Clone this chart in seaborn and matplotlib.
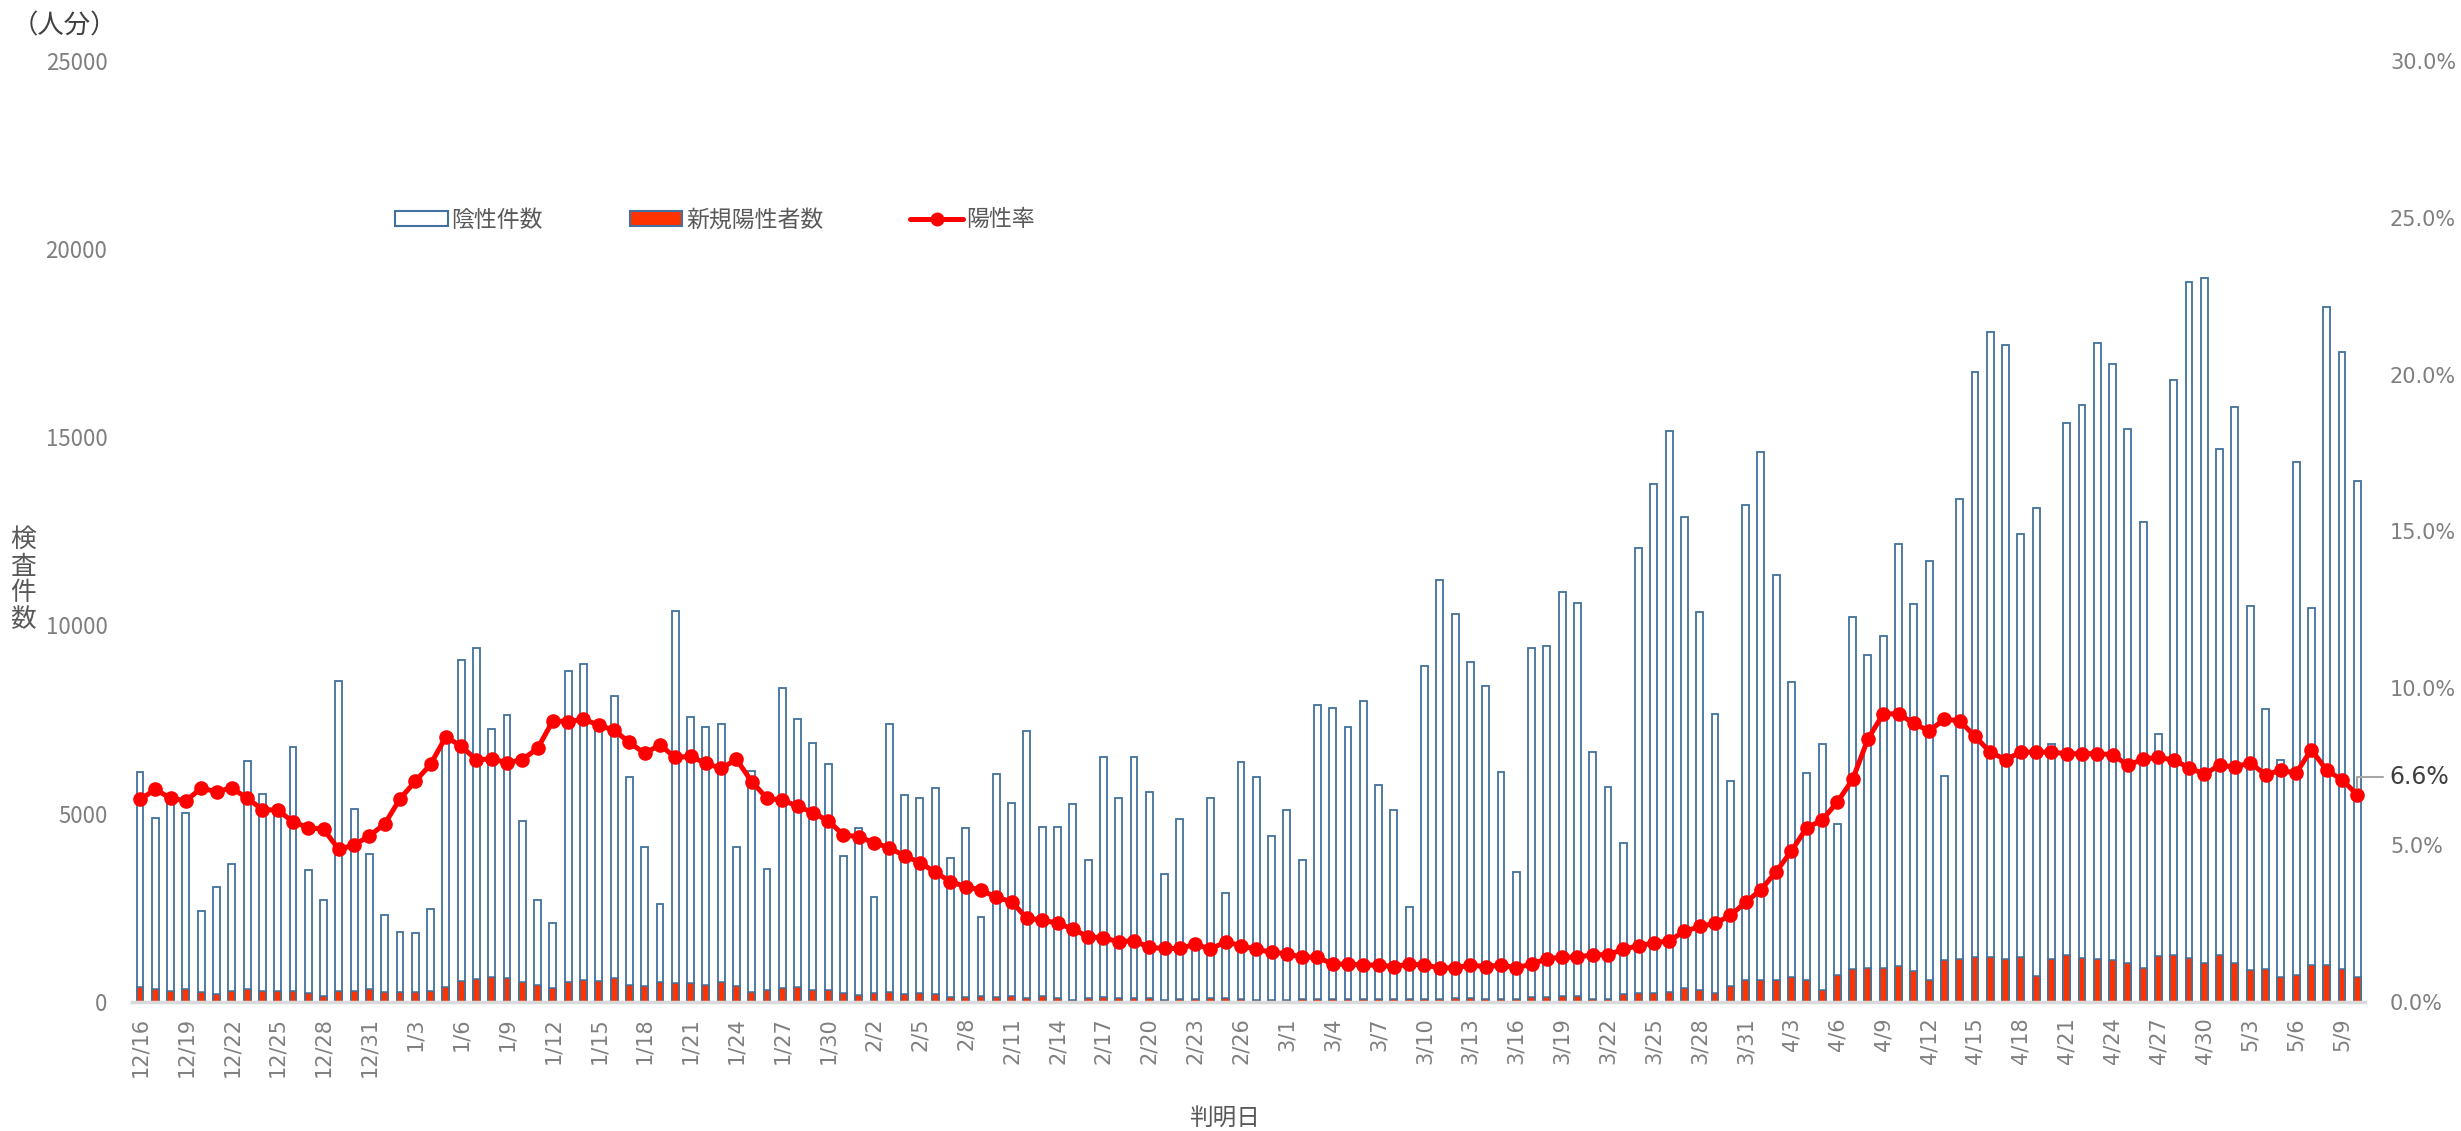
import numpy as np
import pandas as pd
import matplotlib
matplotlib.use("Agg")
import matplotlib.pyplot as plt
from matplotlib.patches import Patch
from matplotlib.lines import Line2D
from matplotlib.ticker import MultipleLocator, FuncFormatter
import seaborn as sns

# 判明日 (2020/12/16 - 2021/5/10)
dates = pd.date_range("2020-12-16", "2021-05-10", freq="D")
date_labels = [f"{d.month}/{d.day}" for d in dates]

# 陰性件数
negative_tests = [
    5730, 4545, 5108, 4694, 2161, 2860, 3376, 6060, 5237, 4908,
    6470, 3270, 2543, 8232, 4838, 3604, 2054, 1611, 1568, 2180,
    6567, 8524, 8814, 6584, 6990, 4287, 2251, 1728, 8274, 8391,
    6842, 7503, 5512, 3679, 2081, 9904, 7086, 6849, 6849, 3679,
    5890, 3208, 7974, 7115, 6549, 5991, 3650, 4439, 2552, 7131,
    5297, 5183, 5475, 3703, 4500, 2099, 5919, 5130, 7113, 4491,
    4561, 5202, 3676, 6387, 5332, 6422, 5476, 3354, 4786, 1380,
    5316, 2791, 6310, 5935, 4370, 5063, 3696, 7813, 7755, 7228,
    7925, 5700, 5043, 2470, 8871, 11128, 10202, 8939, 8326, 6032,
    3387, 9281, 9314, 10737, 10457, 6568, 5624, 4034, 11809, 13534,
    14912, 12506, 10058, 7416, 5452, 12615, 14034, 10765, 7831, 5481,
    6536, 3992, 9362, 8303, 8819, 11212, 9737, 11126, 4896, 12214,
    15552, 16594, 16302, 11238, 12450, 5702, 14146, 14704, 16371, 15858,
    14188, 11866, 5912, 15273, 17957, 18194, 13462, 14786, 9693, 6927,
    5770, 13630, 9486, 17484, 16413, 13186,
]

# 新規陽性者数
new_positives = [
    383, 346, 292, 330, 250, 197, 292, 330, 292, 292,
    292, 223, 160, 292, 292, 330, 250, 250, 250, 292,
    383, 558, 595, 656, 622, 524, 452, 356, 524, 585,
    558, 622, 452, 425, 524, 489, 489, 452, 524, 425,
    250, 319, 356, 391, 319, 319, 223, 186, 223, 250,
    197, 223, 197, 125, 125, 160, 125, 160, 90, 160,
    90, 53, 90, 125, 90, 90, 90, 40, 70, 70,
    90, 90, 60, 40, 40, 40, 60, 60, 60, 60,
    60, 60, 60, 60, 60, 70, 90, 90, 60, 60,
    60, 120, 130, 140, 140, 80, 80, 195, 237, 237,
    263, 375, 306, 221, 417, 585, 585, 585, 654, 585,
    306, 723, 861, 904, 904, 946, 821, 585, 1098, 1140,
    1196, 1196, 1140, 1196, 681, 1140, 1239, 1154, 1140, 1098,
    1029, 890, 1209, 1239, 1167, 1029, 1239, 1029, 835, 861,
    654, 723, 973, 973, 861, 654,
]

# 陽性率 (%)
positive_rate = [
    6.45, 6.77, 6.49, 6.41, 6.81, 6.70, 6.82, 6.49, 6.13, 6.11,
    5.74, 5.55, 5.50, 4.86, 5.00, 5.29, 5.67, 6.47, 7.03, 7.57,
    8.45, 8.15, 7.71, 7.75, 7.62, 7.72, 8.08, 8.96, 8.93, 9.01,
    8.82, 8.66, 8.27, 7.92, 8.19, 7.79, 7.83, 7.60, 7.44, 7.73,
    7.02, 6.49, 6.43, 6.24, 6.03, 5.77, 5.32, 5.26, 5.07, 4.91,
    4.65, 4.44, 4.13, 3.83, 3.67, 3.56, 3.33, 3.19, 2.66, 2.61,
    2.50, 2.32, 2.07, 2.04, 1.91, 1.95, 1.73, 1.70, 1.70, 1.83,
    1.68, 1.91, 1.79, 1.67, 1.58, 1.53, 1.42, 1.42, 1.20, 1.20,
    1.17, 1.17, 1.12, 1.20, 1.17, 1.08, 1.08, 1.17, 1.12, 1.17,
    1.08, 1.20, 1.37, 1.42, 1.42, 1.50, 1.50, 1.67, 1.79, 1.87,
    1.95, 2.24, 2.40, 2.50, 2.75, 3.17, 3.57, 4.15, 4.81, 5.55,
    5.79, 6.37, 7.09, 8.38, 9.18, 9.18, 8.88, 8.63, 9.01, 8.96,
    8.46, 7.96, 7.72, 7.96, 7.96, 7.96, 7.91, 7.91, 7.91, 7.88,
    7.54, 7.74, 7.79, 7.71, 7.46, 7.26, 7.54, 7.49, 7.62, 7.24,
    7.38, 7.29, 8.04, 7.38, 7.08, 6.6,
]

df = pd.DataFrame({
    "date": date_labels,
    "negative": negative_tests,
    "positive": new_positives,
    "rate": positive_rate,
})
df["total"] = df["negative"] + df["positive"]
df["idx"] = np.arange(len(df))

sns.set_theme(style="white")
plt.rcParams["font.family"] = ["Noto Sans CJK JP", "DejaVu Sans"]

EDGE = "#41719C"
RED_BAR = "#FF3300"
RED_LINE = "#FF0000"
GREY = "#7F7F7F"
DARK = "#404040"

fig = plt.figure(figsize=(24.61, 11.31), dpi=100)
ax = fig.add_axes([0.0538, 0.1143, 0.90715, 0.83175])

# stacked bars: total (white, outlined) with positives drawn over the base
sns.barplot(data=df, x="date", y="total", order=date_labels, color="white",
            saturation=1, edgecolor=EDGE, linewidth=1.3, width=0.45,
            errorbar=None, ax=ax)
sns.barplot(data=df, x="date", y="positive", order=date_labels, color=RED_BAR,
            saturation=1, edgecolor=EDGE, linewidth=1.1, width=0.45,
            errorbar=None, ax=ax)

ax.set_xlim(-0.5, len(df) - 0.5)
ax.set_ylim(0, 25000)
ax.yaxis.set_major_locator(MultipleLocator(5000))
ax.set_xticks(df["idx"].values[::3])
ax.set_xticklabels(df["date"].values[::3], rotation=90, fontsize=15,
                   color=GREY, family="DejaVu Sans")
ax.tick_params(axis="x", length=0, pad=11)
ax.tick_params(axis="y", length=0, pad=18, labelsize=16, labelcolor=GREY)
ax.set_xlabel("")
ax.set_ylabel("")
for s in ["left", "right", "top"]:
    ax.spines[s].set_visible(False)
ax.spines["bottom"].set_color("#D9D9D9")
ax.spines["bottom"].set_linewidth(2.5)

# positivity rate on the secondary axis
ax2 = ax.twinx()
sns.lineplot(data=df, x="idx", y="rate", ax=ax2, color=RED_LINE, linewidth=3.6,
             marker="o", markersize=9.5, markeredgecolor=RED_LINE,
             markeredgewidth=1, legend=False)
ax2.set_xlim(-0.5, len(df) - 0.5)
ax2.set_ylim(0, 30)
ax2.yaxis.set_major_locator(MultipleLocator(5))
ax2.yaxis.set_major_formatter(FuncFormatter(lambda v, p: f"{v:.1f}%"))
ax2.tick_params(axis="y", length=0, pad=18, labelsize=15, labelcolor=GREY)
for lbl in ax2.get_yticklabels():
    lbl.set_family("DejaVu Sans")
ax2.set_xlabel("")
ax2.set_ylabel("")
for s in ax2.spines.values():
    s.set_visible(False)

last_rate = positive_rate[-1]
ax2.annotate(f"{last_rate:.1f}%", xy=(len(df) - 1, last_rate),
             xytext=(23, 13), textcoords="offset points",
             ha="left", va="center", fontsize=17, color=DARK,
             family="DejaVu Sans",
             arrowprops=dict(arrowstyle="-", color="#A6A6A6", lw=1.5,
                             shrinkA=2, shrinkB=5,
                             connectionstyle="angle,angleA=0,angleB=90,rad=0"))

handles = [
    Patch(facecolor="white", edgecolor=EDGE, linewidth=1.5),
    Patch(facecolor=RED_BAR, edgecolor=EDGE, linewidth=1.5),
    Line2D([], [], color=RED_LINE, linewidth=3.6, marker="o", markersize=9),
]
fig.legend(handles, ["陰性件数", "新規陽性者数", "陽性率"],
           loc="center left", bbox_to_anchor=(395 / 2461, 1 - 220 / 1131),
           ncol=3, frameon=False, borderpad=0, borderaxespad=0,
           handlelength=2.3, handleheight=0.65, handletextpad=0.15,
           columnspacing=3.8, fontsize=16.5, labelcolor="#595959")

fig.text(12 / 2461, 1 - 26 / 1131, "（人分）", ha="left", va="center",
         fontsize=19, color=DARK)
fig.text(23 / 2461, 1 - 580 / 1131, "検\n査\n件\n数", ha="center", va="center",
         fontsize=18.5, color="#595959", linespacing=1.05)
fig.text(1224 / 2461, 1 - 1118 / 1131, "判明日", ha="center", va="center",
         fontsize=17, color="#595959")

fig.savefig("out.png", dpi=100)
